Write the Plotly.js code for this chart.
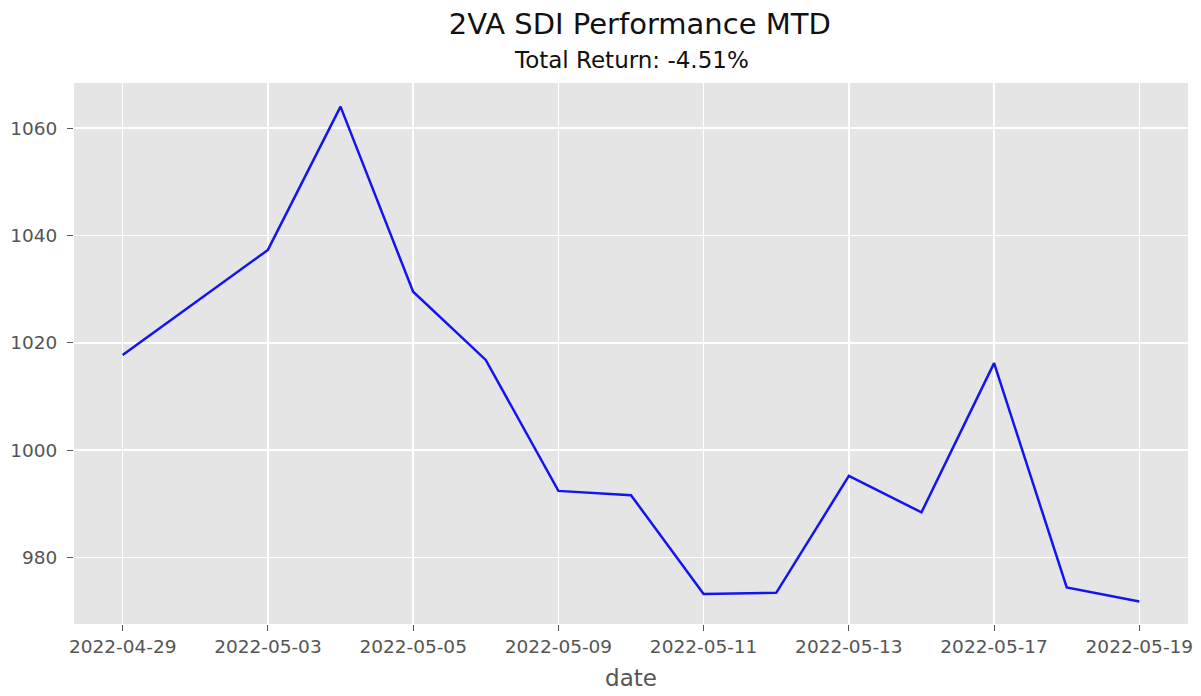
<!DOCTYPE html>
<html>
<head>
<meta charset="utf-8">
<script src="https://cdn.plot.ly/plotly-3.0.1.min.js"></script>
<style>html,body{margin:0;padding:0;background:#fff;}#chart{width:1201px;height:696px;}</style>
</head>
<body>
<div id="chart"></div>
<script>
const dates = ["2022-04-29","2022-05-02","2022-05-03","2022-05-04","2022-05-05","2022-05-06","2022-05-09","2022-05-10","2022-05-11","2022-05-12","2022-05-13","2022-05-16","2022-05-17","2022-05-18","2022-05-19"];
const values = [1017.7,1027.5,1037.3,1064.0,1029.5,1016.8,992.4,991.6,973.2,973.4,995.2,988.4,1016.2,974.4,971.8];
const xTickLabels = ["2022-04-29","2022-05-03","2022-05-05","2022-05-09","2022-05-11","2022-05-13","2022-05-17","2022-05-19"];
const yTickVals = [980,1000,1020,1040,1060];
const chartTitle = "2VA SDI Performance MTD";
const subTitle = "Total Return: -4.51%";
const xLabel = "date";

const font = "DejaVu Sans, sans-serif";
const trace = {
  x: dates, y: values, type: "scatter", mode: "lines",
  line: {color: "#1414f0", width: 2.5}, hoverinfo: "x+y"
};
const layout = {
  width: 1201, height: 696,
  margin: {l: 74, r: 13, t: 83, b: 72},
  paper_bgcolor: "#ffffff", plot_bgcolor: "#e5e5e5",
  font: {family: font, color: "#555555"},
  showlegend: false,
  title: {text: chartTitle, font: {family: font, size: 29, color: "#111111"},
          x: 610/1201, xanchor: "center", xref: "paper", y: 1 - 34/696, yanchor: "bottom", yref: "container", pad: {t:0,b:0}},
  annotations: [{text: subTitle, xref: "paper", yref: "paper", x: 0.5, xanchor: "center",
                 y: 1 + (83-74)/541, yanchor: "bottom", showarrow: false,
                 font: {family: font, size: 23, color: "#111111"}, borderpad: 0}],
  xaxis: {
    type: "category", range: [-0.67, 14.67],
    tickmode: "array", tickvals: xTickLabels, ticktext: xTickLabels,
    showgrid: true, gridcolor: "#ffffff", gridwidth: 1.5,
    ticks: "outside", ticklen: 6, tickcolor: "#555555", tickwidth: 1,
    tickfont: {family: font, size: 18.5, color: "#555555"},
    showline: false, zeroline: false,
    title: {text: xLabel, font: {family: font, size: 23, color: "#555555"}, standoff: 13}
  },
  yaxis: {
    range: [967.6, 1068.4],
    tickmode: "array", tickvals: yTickVals,
    showgrid: true, gridcolor: "#ffffff", gridwidth: 1.5,
    ticks: "outside", ticklen: 6, tickcolor: "#555555", tickwidth: 1,
    ticklabelstandoff: 6,
    tickfont: {family: font, size: 18.5, color: "#555555"},
    showline: false, zeroline: false
  }
};
Plotly.newPlot("chart", [trace], layout, {displayModeBar: false, staticPlot: true});
</script>
</body>
</html>
